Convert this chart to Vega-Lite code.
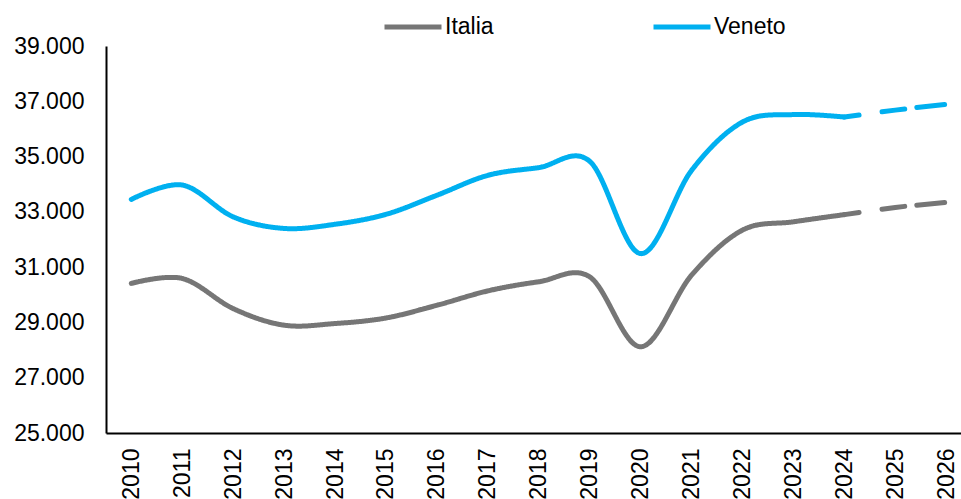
{
  "$schema": "https://vega.github.io/schema/vega-lite/v6.json",
  "autosize": {"type": "none"},
  "width": 855,
  "height": 387,
  "padding": {"left": 106, "top": 46, "right": 0, "bottom": 66},
  "background": "white",
  "data": {
    "values": [
      {"anno": 2010, "area": "Italia", "valore": 30410, "tipo": "storico"},
      {"anno": 2011, "area": "Italia", "valore": 30590, "tipo": "storico"},
      {"anno": 2012, "area": "Italia", "valore": 29500, "tipo": "storico"},
      {"anno": 2013, "area": "Italia", "valore": 28900, "tipo": "storico"},
      {"anno": 2014, "area": "Italia", "valore": 28960, "tipo": "storico"},
      {"anno": 2015, "area": "Italia", "valore": 29160, "tipo": "storico"},
      {"anno": 2016, "area": "Italia", "valore": 29620, "tipo": "storico"},
      {"anno": 2017, "area": "Italia", "valore": 30140, "tipo": "storico"},
      {"anno": 2018, "area": "Italia", "valore": 30470, "tipo": "storico"},
      {"anno": 2019, "area": "Italia", "valore": 30650, "tipo": "storico"},
      {"anno": 2020, "area": "Italia", "valore": 28120, "tipo": "storico"},
      {"anno": 2021, "area": "Italia", "valore": 30710, "tipo": "storico"},
      {"anno": 2022, "area": "Italia", "valore": 32340, "tipo": "storico"},
      {"anno": 2023, "area": "Italia", "valore": 32640, "tipo": "storico"},
      {"anno": 2024, "area": "Italia", "valore": 32900, "tipo": "storico"},
      {"anno": 2024, "area": "Italia", "valore": 32900, "tipo": "previsione"},
      {"anno": 2025, "area": "Italia", "valore": 33160, "tipo": "previsione"},
      {"anno": 2026, "area": "Italia", "valore": 33340, "tipo": "previsione"},
      {"anno": 2010, "area": "Veneto", "valore": 33450, "tipo": "storico"},
      {"anno": 2011, "area": "Veneto", "valore": 33970, "tipo": "storico"},
      {"anno": 2012, "area": "Veneto", "valore": 32820, "tipo": "storico"},
      {"anno": 2013, "area": "Veneto", "valore": 32400, "tipo": "storico"},
      {"anno": 2014, "area": "Veneto", "valore": 32550, "tipo": "storico"},
      {"anno": 2015, "area": "Veneto", "valore": 32910, "tipo": "storico"},
      {"anno": 2016, "area": "Veneto", "valore": 33600, "tipo": "storico"},
      {"anno": 2017, "area": "Veneto", "valore": 34320, "tipo": "storico"},
      {"anno": 2018, "area": "Veneto", "valore": 34600, "tipo": "storico"},
      {"anno": 2019, "area": "Veneto", "valore": 34830, "tipo": "storico"},
      {"anno": 2020, "area": "Veneto", "valore": 31490, "tipo": "storico"},
      {"anno": 2021, "area": "Veneto", "valore": 34500, "tipo": "storico"},
      {"anno": 2022, "area": "Veneto", "valore": 36250, "tipo": "storico"},
      {"anno": 2023, "area": "Veneto", "valore": 36520, "tipo": "storico"},
      {"anno": 2024, "area": "Veneto", "valore": 36430, "tipo": "storico"},
      {"anno": 2024, "area": "Veneto", "valore": 36430, "tipo": "previsione"},
      {"anno": 2025, "area": "Veneto", "valore": 36680, "tipo": "previsione"},
      {"anno": 2026, "area": "Veneto", "valore": 36890, "tipo": "previsione"}
    ]
  },
  "mark": {"type": "line", "interpolate": "cardinal", "strokeWidth": 5, "strokeCap": "round", "strokeJoin": "round"},
  "encoding": {
    "x": {
      "field": "anno", "type": "quantitative",
      "scale": {"domain": [2009.503, 2026.29], "nice": false, "zero": false},
      "axis": {
        "title": null,
        "values": [2010, 2011, 2012, 2013, 2014, 2015, 2016, 2017, 2018, 2019, 2020, 2021, 2022, 2023, 2024, 2025, 2026],
        "format": "d",
        "labelAngle": -90,
        "labelAlign": "right",
        "labelBaseline": "middle",
        "labelPadding": 15,
        "labelFont": "Liberation Sans",
        "labelFontSize": 23,
        "labelColor": "#000000",
        "labelOverlap": false,
        "labelFlush": false,
        "ticks": false,
        "grid": false,
        "domainColor": "#000000",
        "domainWidth": 2
      }
    },
    "y": {
      "field": "valore", "type": "quantitative",
      "scale": {"domain": [25000, 39000], "nice": false, "zero": false},
      "axis": {
        "title": null,
        "values": [25000, 27000, 29000, 31000, 33000, 35000, 37000, 39000],
        "labelExpr": "replace(format(datum.value, ',.0f'), ',', '.')",
        "labelPadding": 22,
        "labelFont": "Liberation Sans",
        "labelFontSize": 23,
        "labelColor": "#000000",
        "labelOverlap": false,
        "labelFlush": false,
        "ticks": false,
        "grid": false,
        "domainColor": "#000000",
        "domainWidth": 2
      }
    },
    "color": {
      "field": "area", "type": "nominal",
      "scale": {"domain": ["Italia", "Veneto"], "range": ["#767676", "#00B0F0"]},
      "legend": {
        "title": null,
        "orient": "none",
        "direction": "horizontal",
        "columns": 2,
        "legendX": 276,
        "legendY": -50,
        "symbolType": "stroke",
        "symbolSize": 3249,
        "symbolStrokeWidth": 5,
        "labelOffset": 1,
        "columnPadding": 149,
        "labelFont": "Liberation Sans",
        "labelFontSize": 23,
        "labelColor": "#000000",
        "labelLimit": 0
      }
    },
    "strokeDash": {
      "field": "tipo", "type": "nominal",
      "scale": {"domain": ["storico", "previsione"], "range": [[1, 0], [15, 23, 23, 12, 28, 20]]},
      "legend": null
    }
  },
  "config": {"view": {"stroke": null}}
}
